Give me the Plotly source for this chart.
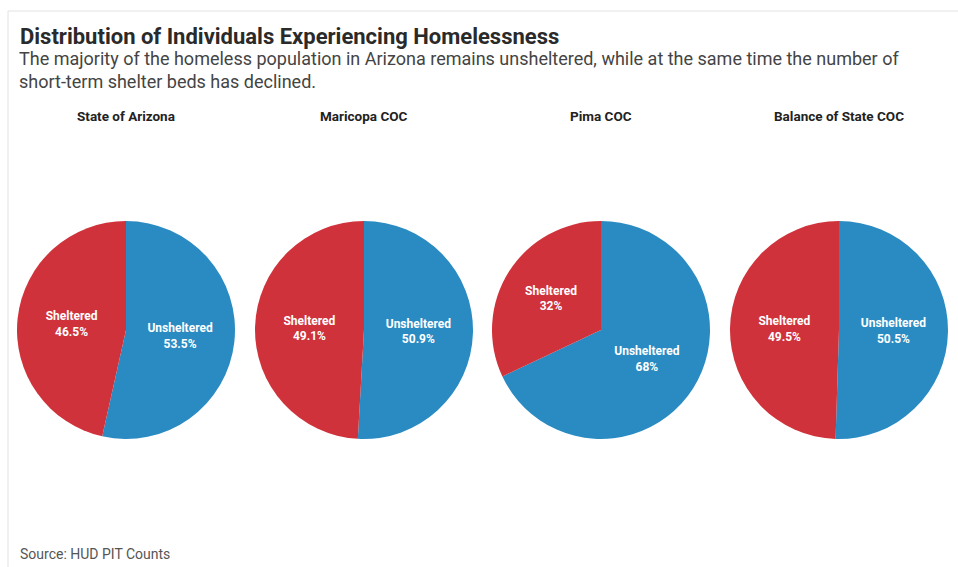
import plotly.graph_objects as go

# Data
regions = ["State of Arizona", "Maricopa COC", "Pima COC", "Balance of State COC"]
categories = ["Unsheltered", "Sheltered"]
unsheltered = [53.5, 50.9, 68, 50.5]
sheltered = [46.5, 49.1, 32, 49.5]

W, H = 958, 567
BLUE = "#2A8BC2"
RED = "#CF323A"

# pixel centres of each pie and shared radius
centers_x = [126, 364, 601, 839]
center_y = 330
radius = 109

fig = go.Figure()

for i, name in enumerate(regions):
    cx = centers_x[i]
    vals = [unsheltered[i], sheltered[i]]
    texts = [f"{categories[k]}<br>{vals[k]:g}%" for k in range(2)]
    fig.add_trace(go.Pie(
        labels=categories,
        values=vals,
        text=texts,
        textinfo="text",
        textposition="inside",
        insidetextorientation="horizontal",
        sort=False,
        direction="clockwise",
        rotation=0,
        marker=dict(colors=[BLUE, RED], line=dict(width=0)),
        textfont=dict(family="Roboto", size=12, color="white", weight="bold"),
        showlegend=False,
        hoverinfo="label+percent",
        domain=dict(
            x=[(cx - radius) / W, (cx + radius) / W],
            y=[1 - (center_y + radius) / H, 1 - (center_y - radius) / H],
        ),
    ))
    fig.add_annotation(
        x=cx / W, y=1 - 116 / H, xref="paper", yref="paper",
        text=f"<b>{name}</b>", showarrow=False,
        font=dict(family="Roboto", size=13.5, color="#222222"),
        xanchor="center", yanchor="middle",
    )

# headline, subtitle and source
fig.add_annotation(
    x=18 / W, y=1 - 36 / H, xref="paper", yref="paper",
    text="<b>Distribution of Individuals Experiencing Homelessness</b>",
    showarrow=False, xanchor="left", yanchor="middle",
    font=dict(family="Roboto", size=22, color="#2a2a2a"),
)
fig.add_annotation(
    x=17 / W, y=1 - 70 / H, xref="paper", yref="paper",
    text="The majority of the homeless population in Arizona remains unsheltered, while at the same time the number of<br>short-term shelter beds has declined.",
    showarrow=False, xanchor="left", yanchor="middle", align="left",
    font=dict(family="Roboto", size=18, color="#444444"),
)
fig.add_annotation(
    x=18 / W, y=1 - 554 / H, xref="paper", yref="paper",
    text="Source: HUD PIT Counts",
    showarrow=False, xanchor="left", yanchor="middle",
    font=dict(family="Roboto", size=14, color="#555555"),
)

# thin frame along top and left edges
fig.add_shape(type="line", xref="paper", yref="paper",
              x0=8 / W, x1=1, y0=1 - 11 / H, y1=1 - 11 / H,
              line=dict(color="#E2E2E2", width=1))
fig.add_shape(type="line", xref="paper", yref="paper",
              x0=8 / W, x1=8 / W, y0=0, y1=1 - 11 / H,
              line=dict(color="#E2E2E2", width=1))

fig.update_layout(
    width=W, height=H,
    margin=dict(l=0, r=0, t=0, b=0),
    paper_bgcolor="white",
    plot_bgcolor="white",
    font=dict(family="Roboto"),
)

fig.write_html("out.html")
